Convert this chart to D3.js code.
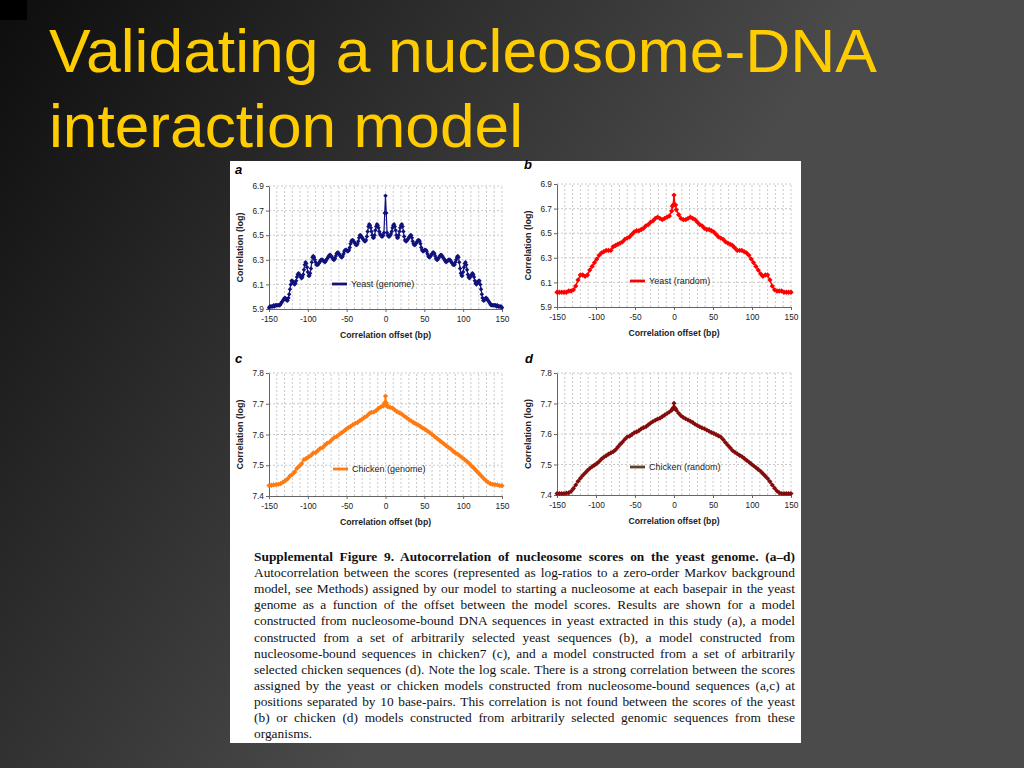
<!DOCTYPE html>
<html>
<head>
<meta charset="utf-8">
<script src="https://cdnjs.cloudflare.com/ajax/libs/d3/7.8.5/d3.min.js"></script>
<style>
body { margin: 0; background: #222; }
svg { display: block; }
</style>
</head>
<body>
<svg id="slide" width="1024" height="768"></svg>
<script>
// ---- data ----
var xTicks = [-150, -100, -50, 0, 50, 100, 150];
var yTicksYeast = [5.9, 6.1, 6.3, 6.5, 6.7, 6.9];
var yTicksChicken = [7.4, 7.5, 7.6, 7.7, 7.8];

// panel a: every base pair, -150 .. 150
var offsetsA = d3.range(-150, 151);
var yeastGenome = [
  5.91,5.92,5.92,5.92,5.92,5.92,5.93,5.92,5.93,5.93,
  5.93,5.93,5.93,5.93,5.93,5.94,5.95,5.96,5.97,5.98,
  5.99,5.99,5.98,5.97,5.97,5.99,6.02,6.06,6.10,6.13,
  6.13,6.12,6.11,6.10,6.11,6.13,6.16,6.18,6.19,6.18,
  6.17,6.16,6.15,6.16,6.18,6.22,6.26,6.28,6.27,6.24,
  6.20,6.17,6.17,6.19,6.23,6.28,6.32,6.33,6.32,6.30,
  6.28,6.26,6.26,6.26,6.27,6.28,6.29,6.30,6.30,6.30,
  6.29,6.29,6.28,6.29,6.30,6.31,6.32,6.33,6.34,6.34,
  6.33,6.32,6.31,6.30,6.30,6.31,6.33,6.35,6.36,6.36,
  6.35,6.34,6.33,6.32,6.32,6.33,6.35,6.37,6.38,6.38,
  6.38,6.37,6.37,6.38,6.40,6.43,6.45,6.46,6.46,6.45,
  6.44,6.43,6.42,6.42,6.43,6.45,6.48,6.50,6.50,6.49,
  6.48,6.47,6.46,6.45,6.45,6.46,6.49,6.53,6.57,6.59,
  6.58,6.56,6.53,6.50,6.48,6.48,6.50,6.54,6.57,6.59,
  6.58,6.56,6.53,6.51,6.50,6.49,6.49,6.50,6.52,6.68,
  6.82,
  6.68,6.52,6.50,6.49,6.49,6.50,6.51,6.53,6.56,6.58,
  6.59,6.57,6.54,6.50,6.48,6.48,6.50,6.53,6.56,6.58,
  6.59,6.57,6.53,6.49,6.46,6.45,6.45,6.46,6.47,6.48,
  6.49,6.50,6.50,6.48,6.45,6.43,6.42,6.42,6.43,6.44,
  6.45,6.46,6.46,6.45,6.43,6.40,6.38,6.37,6.37,6.38,
  6.38,6.38,6.37,6.35,6.33,6.32,6.32,6.33,6.34,6.35,
  6.36,6.36,6.35,6.33,6.31,6.30,6.30,6.31,6.32,6.33,
  6.34,6.34,6.33,6.32,6.31,6.30,6.29,6.28,6.29,6.29,
  6.30,6.30,6.30,6.29,6.28,6.27,6.26,6.26,6.26,6.28,
  6.30,6.32,6.33,6.32,6.28,6.23,6.19,6.17,6.17,6.20,
  6.24,6.27,6.28,6.26,6.22,6.18,6.16,6.15,6.16,6.17,
  6.18,6.19,6.18,6.16,6.13,6.11,6.10,6.11,6.12,6.13,
  6.13,6.10,6.06,6.02,5.99,5.97,5.97,5.98,5.99,5.99,
  5.98,5.97,5.96,5.95,5.94,5.93,5.93,5.93,5.93,5.93,
  5.93,5.93,5.92,5.93,5.92,5.92,5.92,5.92,5.92,5.91
];

// panels b-d: every 3 bp, plus the points next to the zero offset
var offsetsFine = d3.range(-150, 0, 3).concat([-2, -1, 0, 1, 2], d3.range(3, 151, 3));

var yeastRandom = [
  6.02,6.02,6.02,6.02,6.02,6.03,6.03,6.04,6.07,6.12,
  6.16,6.16,6.15,6.16,6.20,6.23,6.26,6.29,6.32,6.34,
  6.35,6.36,6.36,6.36,6.39,6.40,6.41,6.42,6.43,6.45,
  6.46,6.47,6.49,6.51,6.52,6.52,6.53,6.54,6.56,6.57,
  6.59,6.60,6.62,6.63,6.62,6.61,6.62,6.63,6.64,6.68,
  6.72,6.73,6.81,6.73,6.73,
  6.69,6.65,6.62,6.61,6.61,6.62,6.63,6.62,6.61,6.59,
  6.57,6.56,6.54,6.53,6.53,6.52,6.51,6.49,6.47,6.46,
  6.45,6.43,6.42,6.41,6.40,6.38,6.36,6.36,6.36,6.35,
  6.34,6.32,6.29,6.26,6.23,6.20,6.17,6.15,6.16,6.16,
  6.12,6.07,6.04,6.03,6.03,6.03,6.02,6.02,6.02,6.02
];

var chickenGenome = [
  7.434,7.435,7.436,7.437,7.438,7.440,7.445,7.450,7.456,7.465,
  7.470,7.478,7.490,7.497,7.505,7.518,7.522,7.527,7.532,7.540,
  7.541,7.548,7.555,7.557,7.565,7.572,7.575,7.583,7.590,7.593,
  7.599,7.605,7.610,7.617,7.622,7.626,7.632,7.636,7.639,7.645,
  7.650,7.656,7.660,7.668,7.672,7.673,7.678,7.685,7.690,7.692,
  7.697,7.703,7.725,7.703,7.695,
  7.690,7.688,7.686,7.680,7.674,7.670,7.666,7.660,7.655,7.649,
  7.644,7.639,7.635,7.631,7.626,7.621,7.617,7.611,7.606,7.600,
  7.594,7.588,7.582,7.576,7.570,7.564,7.558,7.553,7.546,7.540,
  7.536,7.530,7.524,7.518,7.512,7.505,7.497,7.490,7.482,7.474,
  7.466,7.458,7.451,7.445,7.440,7.438,7.437,7.436,7.434,7.433
];

var chickenRandom = [
  7.405,7.405,7.405,7.405,7.406,7.407,7.412,7.421,7.433,7.445,
  7.455,7.464,7.472,7.480,7.487,7.493,7.498,7.503,7.510,7.518,
  7.524,7.529,7.534,7.538,7.542,7.548,7.557,7.566,7.574,7.583,
  7.590,7.593,7.598,7.604,7.607,7.611,7.617,7.621,7.624,7.630,
  7.636,7.641,7.645,7.649,7.652,7.657,7.662,7.667,7.672,7.678,
  7.682,7.686,7.701,7.686,7.682,
  7.678,7.668,7.660,7.654,7.650,7.646,7.642,7.638,7.632,7.628,
  7.624,7.620,7.617,7.613,7.609,7.605,7.602,7.598,7.594,7.590,
  7.582,7.572,7.563,7.555,7.546,7.540,7.535,7.530,7.526,7.520,
  7.514,7.508,7.502,7.496,7.490,7.484,7.478,7.470,7.462,7.454,
  7.444,7.433,7.422,7.413,7.407,7.405,7.405,7.405,7.405,7.405
];

var titleLines = ["Validating a nucleosome-DNA", "interaction model"];

var captionLines = [
  "Supplemental Figure 9. Autocorrelation of nucleosome scores on the yeast genome. (a\u2013d)",
  "Autocorrelation between the scores (represented as log-ratios to a zero-order Markov background",
  "model, see Methods) assigned by our model to starting a nucleosome at each basepair in the yeast",
  "genome as a function of the offset between the model scores. Results are shown for a model",
  "constructed from nucleosome-bound DNA sequences in yeast extracted in this study (a), a model",
  "constructed from a set of arbitrarily selected yeast sequences (b), a model constructed from",
  "nucleosome-bound sequences in chicken7 (c), and a model constructed from a set of arbitrarily",
  "selected chicken sequences (d). Note the log scale. There is a strong correlation between the scores",
  "assigned by the yeast or chicken models constructed from nucleosome-bound sequences (a,c) at",
  "positions separated by 10 base-pairs. This correlation is not found between the scores of the yeast",
  "(b) or chicken (d) models constructed from arbitrarily selected genomic sequences from these",
  "organisms."
];

// ---- slide ----
var svg = d3.select("#slide");
var defs = svg.append("defs");
var bg = defs.append("linearGradient").attr("id", "bg")
  .attr("gradientUnits", "userSpaceOnUse")
  .attr("x1", 0).attr("y1", 0).attr("x2", 600).attr("y2", 400);
bg.append("stop").attr("offset", "0").attr("stop-color", "#0d0d0d");
bg.append("stop").attr("offset", "1").attr("stop-color", "#4b4b4b");

svg.append("rect").attr("width", 1024).attr("height", 768).attr("fill", "url(#bg)");
svg.append("rect").attr("width", 27).attr("height", 20).attr("fill", "#000");

var titleWidths = [828, 474];
titleLines.forEach(function(t, i) {
  svg.append("text")
    .attr("x", 49).attr("y", 72 + i * 75)
    .attr("textLength", titleWidths[i]).attr("lengthAdjust", "spacingAndGlyphs")
    .style("font-family", "'Liberation Sans', Arial, sans-serif")
    .style("font-size", "62px")
    .style("fill", "#ffcc00")
    .text(t);
});

// white figure sheet
svg.append("rect").attr("x", 230).attr("y", 161).attr("width", 571).attr("height", 582).attr("fill", "#fff");

var font = "'Liberation Sans', Arial, sans-serif";

var panels = [
  { label: "a", lx: 235, ly: 174, left: 269, right: 502, top: 186, bottom: 309,
    domain: [5.9, 6.9], ticks: yTicksYeast, offsets: offsetsA, values: yeastGenome,
    color: "#12127c", legendColor: "#12127c", marker: 10, width: 1.2,
    legend: "Yeast (genome)", legX: 332, legY: 284 },
  { label: "b", lx: 524, ly: 169, left: 557, right: 791, top: 184, bottom: 307,
    domain: [5.9, 6.9], ticks: yTicksYeast, offsets: offsetsFine, values: yeastRandom,
    color: "#ff0000", legendColor: "#ff0000", marker: 14, width: 1.5,
    legend: "Yeast (random)", legX: 630, legY: 281 },
  { label: "c", lx: 235, ly: 363, left: 269, right: 502, top: 373, bottom: 496,
    domain: [7.4, 7.8], ticks: yTicksChicken, offsets: offsetsFine, values: chickenGenome,
    color: "#ff7a10", legendColor: "#ff7a10", marker: 14, width: 1.5,
    legend: "Chicken (genome)", legX: 333, legY: 469 },
  { label: "d", lx: 525, ly: 363, left: 557, right: 791, top: 373, bottom: 495,
    domain: [7.4, 7.8], ticks: yTicksChicken, offsets: offsetsFine, values: chickenRandom,
    color: "#840c0c", legendColor: "#5e4420", marker: 13, width: 1.5,
    legend: "Chicken (random)", legX: 630, legY: 467 }
];

panels.forEach(drawPanel);

function drawPanel(p) {
  var x = d3.scaleLinear().domain([-150, 150]).range([p.left, p.right]);
  var y = d3.scaleLinear().domain(p.domain).range([p.bottom, p.top]);
  var g = svg.append("g");

  // dashed grid
  g.selectAll(".vg").data(d3.range(-140, 151, 10)).enter().append("line")
    .attr("x1", function(d) { return x(d); }).attr("x2", function(d) { return x(d); })
    .attr("y1", y(p.domain[0])).attr("y2", y(p.domain[1]))
    .attr("stroke", "#bdbdbd").attr("stroke-width", 0.8).attr("stroke-dasharray", "2,2");
  g.selectAll(".hg").data(p.ticks.slice(1)).enter().append("line")
    .attr("x1", x(-150)).attr("x2", x(150))
    .attr("y1", function(d) { return y(d); }).attr("y2", function(d) { return y(d); })
    .attr("stroke", "#bdbdbd").attr("stroke-width", 0.8).attr("stroke-dasharray", "2,2");

  // axes (plain hyphen minus, as in the printed figure)
  var xa = g.append("g").attr("transform", "translate(0," + p.bottom + ")")
    .call(d3.axisBottom(x).tickValues(xTicks).tickFormat(function(d) { return String(d); })
      .tickSize(3).tickPadding(4).tickSizeOuter(0));
  var ya = g.append("g").attr("transform", "translate(" + p.left + ",0)")
    .call(d3.axisLeft(y).tickValues(p.ticks).tickFormat(function(d) { return d.toFixed(1); })
      .tickSize(3).tickPadding(2).tickSizeOuter(0));
  [xa, ya].forEach(function(a) {
    a.attr("font-family", font).attr("font-size", 8.3);
    a.selectAll("path, line").attr("stroke", "#666");
    a.selectAll("text").attr("fill", "#222");
  });

  // axis titles
  g.append("text")
    .attr("x", (p.left + p.right) / 2).attr("y", p.bottom + 28.5)
    .attr("text-anchor", "middle")
    .style("font-family", font).style("font-size", "8.7px").style("font-weight", "bold").style("fill", "#222")
    .text("Correlation offset (bp)");
  g.append("text")
    .attr("transform", "translate(" + (p.left - 26) + "," + ((p.top + p.bottom) / 2) + ") rotate(-90)")
    .attr("text-anchor", "middle")
    .style("font-family", font).style("font-size", "9px").style("font-weight", "bold").style("fill", "#222")
    .text("Correlation (log)");

  // panel letter
  svg.append("text")
    .attr("x", p.lx).attr("y", p.ly)
    .style("font-family", font).style("font-size", "13px")
    .style("font-weight", "bold").style("font-style", "italic").style("fill", "#000")
    .text(p.label);

  // series
  var pts = p.offsets.map(function(o, i) { return [o, p.values[i]]; });
  g.append("path").datum(pts)
    .attr("fill", "none").attr("stroke", p.color).attr("stroke-width", p.width)
    .attr("d", d3.line().x(function(d) { return x(d[0]); }).y(function(d) { return y(d[1]); }));
  var sym = d3.symbol().type(d3.symbolSquare).size(p.marker);
  g.selectAll(".pt").data(pts).enter().append("path")
    .attr("transform", function(d) { return "translate(" + x(d[0]) + "," + y(d[1]) + ") rotate(45)"; })
    .attr("d", sym).attr("fill", p.color);

  // legend
  g.append("line")
    .attr("x1", p.legX).attr("x2", p.legX + 15).attr("y1", p.legY).attr("y2", p.legY)
    .attr("stroke", p.legendColor).attr("stroke-width", 2.8);
  g.append("text")
    .attr("x", p.legX + 19).attr("y", p.legY + 3)
    .style("font-family", font).style("font-size", "9px").style("fill", "#222")
    .text(p.legend);
}

// caption, justified like the printed figure
var capLeft = 254, capRight = 795;
captionLines.forEach(function(line, i) {
  var t = svg.append("text")
    .attr("x", capLeft).attr("y", 561 + i * 16.1)
    .style("font-family", "'Liberation Serif', 'Times New Roman', serif")
    .style("font-size", "13.4px")
    .style("fill", "#111")
    .style("font-weight", i === 0 ? "bold" : "normal")
    .text(line);
  if (i < captionLines.length - 1) {
    var w = t.node().getComputedTextLength();
    var gaps = line.split(" ").length - 1;
    t.style("word-spacing", ((capRight - capLeft - w) / gaps) + "px");
  }
});
</script>
</body>
</html>
